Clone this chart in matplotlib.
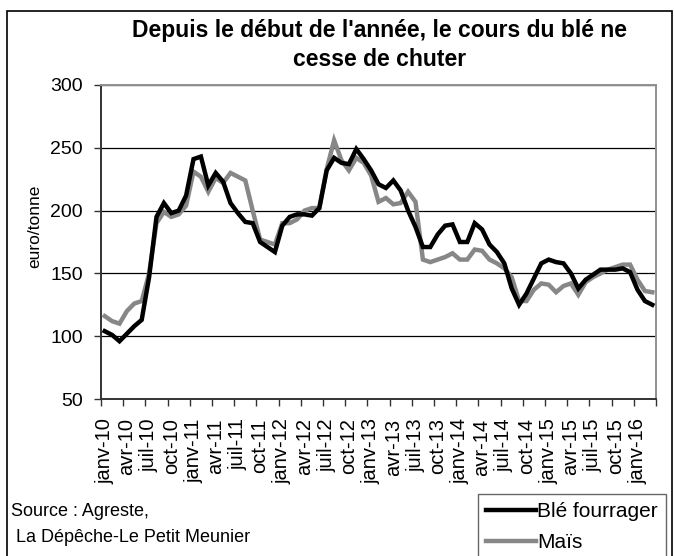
import numpy as np
import matplotlib
matplotlib.use("Agg")
import matplotlib.pyplot as plt
from matplotlib.patches import Rectangle
from matplotlib.lines import Line2D

plt.rcParams['font.family'] = ['Liberation Sans', 'DejaVu Sans']

# monthly prices, janv-10 .. mars-16 (euro/tonne)
ble = [104, 101, 96, 102, 108, 113, 147, 195, 206, 198,
       200, 212, 241, 243, 220, 230, 223, 206, 198, 191,
       190, 175, 171, 167, 188, 195, 197, 197, 196, 202,
       232, 242, 238, 237, 249, 241, 232, 221, 218, 224,
       216, 200, 187, 171, 171, 181, 188, 189, 175, 175,
       190, 185, 173, 167, 158, 138, 125, 134, 146, 158,
       161, 159, 158, 150, 138, 145, 149, 153, 153, 153,
       154, 151, 137, 128, 125]
mais = [116, 112, 110, 120, 126, 128, 150, 190, 199, 195,
        197, 204, 231, 227, 215, 226, 222, 230, 227, 224,
        200, 177, 175, 173, 190, 190, 193, 200, 202, 202,
        233, 256, 240, 232, 242, 238, 228, 207, 210, 205,
        206, 215, 207, 161, 159, 161, 163, 166, 161, 161,
        169, 168, 161, 158, 154, 147, 128, 128, 137, 142,
        141, 135, 140, 142, 133, 143, 147, 150, 153, 155,
        157, 157, 145, 136, 135]

tick_labels = ['janv-10', 'avr-10', 'juil-10', 'oct-10',
               'janv-11', 'avr-11', 'juil-11', 'oct-11',
               'janv-12', 'avr-12', 'juil-12', 'oct-12',
               'janv-13', 'avr-13', 'juil-13', 'oct-13',
               'janv-14', 'avr-14', 'juil-14', 'oct-14',
               'janv-15', 'avr-15', 'juil-15', 'oct-15',
               'janv-16']
series_names = ['Blé fourrager', 'Maïs']
title = "Depuis le début de l'année, le cours du blé ne\ncesse de chuter"

W, H = 674, 556
fig = plt.figure(figsize=(W / 100, H / 100), dpi=100)

# chart area frame (bottom edge falls outside the picture)
fig.patches.append(Rectangle((7 / W, -0.05), (672 - 7) / W, 1 - 11 / H + 0.05,
                             transform=fig.transFigure, fill=False,
                             edgecolor='black', linewidth=1.2))

ax = fig.add_axes([101 / W, 1 - 399 / H, (656 - 101) / W, (399 - 85) / H])
x = np.arange(len(ble))
ax.plot(x, ble, color='black', lw=3.2, solid_joinstyle='miter', zorder=4)
ax.plot(x, mais, color='#878787', lw=3.2, solid_joinstyle='miter', zorder=3)

ax.set_xlim(-0.5, len(ble) - 0.5)
ax.set_ylim(50, 300)
ax.set_yticks([50, 100, 150, 200, 250, 300])
ax.yaxis.grid(True, color='black', lw=0.9)
ax.set_axisbelow(True)

ax.set_xticks(np.arange(0, len(ble), 3))
ax.set_xticklabels(tick_labels, rotation=90)
ax.set_xticks(np.arange(-0.5, len(ble), 3), minor=True)
ax.tick_params(axis='x', which='major', length=0, pad=14, labelsize=14.5)
ax.tick_params(axis='x', which='minor', length=5, width=1, color='#333333')
ax.tick_params(axis='y', length=5, width=1, color='#333333', labelsize=14, pad=8)

for s in ['top', 'right']:
    ax.spines[s].set_color('#909090')
    ax.spines[s].set_linewidth(1.4)
for s in ['left', 'bottom']:
    ax.spines[s].set_color('#333333')
    ax.spines[s].set_linewidth(1.4)

ax.set_ylabel('euro/tonne', fontsize=12.5)
ax.yaxis.set_label_coords((42 - 101) / (656 - 101), 0.55)

fig.text(380 / W, 1 - 45 / H, title, ha='center', va='center',
         fontsize=16.5, fontweight='bold', linespacing=1.3)

fig.text(11 / W, 1 - 512 / H, 'Source : Agreste,', fontsize=13, va='center')
fig.text(11 / W, 1 - 537 / H, ' La Dépêche-Le Petit Meunier', fontsize=13, va='center')

handles = [Line2D([], [], color='black', lw=3.2),
           Line2D([], [], color='#878787', lw=3.2)]
leg = fig.legend(handles, series_names, loc='upper left',
                 bbox_to_anchor=(478 / W, 1 - 494 / H), fontsize=15,
                 frameon=True, fancybox=False, handlelength=2.4,
                 handletextpad=0.05, borderpad=0.4, labelspacing=0.55,
                 borderaxespad=0)
leg.get_frame().set_edgecolor('#404040')
leg.get_frame().set_linewidth(1.0)

fig.savefig('out.png', dpi=100)
